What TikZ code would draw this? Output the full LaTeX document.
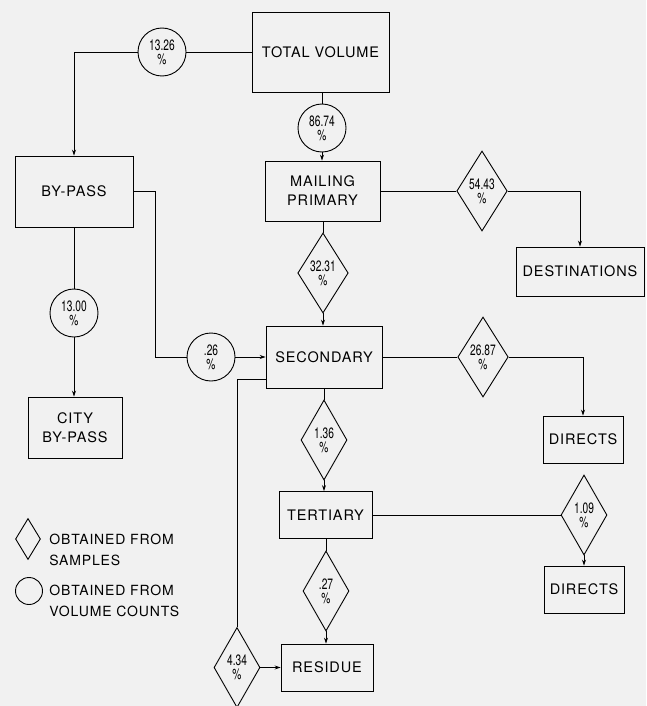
\documentclass[tikz,border=0pt]{standalone}
\usepackage{fontspec}
\setmainfont{TeX Gyre Heros}[LetterSpace=6]
\newfontfamily\numfont{TeX Gyre Heros}[FakeStretch=0.68]
\usetikzlibrary{shapes.geometric,arrows.meta}
\definecolor{paper}{RGB}{241,241,241}

\begin{document}
\begin{tikzpicture}[x=1pt, y=-1pt, line width=0.7pt, >={Stealth[length=6pt,width=4pt]},
    blk/.style={draw, line width=0.9pt, rectangle, inner sep=0pt, align=center, font=\fontsize{14.5}{19}\selectfont},
    cnt/.style={draw, line width=0.9pt, circle, minimum size=48pt, inner sep=0pt, align=center, font=\numfont\fontsize{15}{14}\selectfont},
    smp/.style={draw, line width=0.9pt, diamond, minimum width=46pt, minimum height=80pt, inner sep=0pt, align=center, font=\numfont\fontsize{15}{14}\selectfont},
    key/.style={anchor=west, inner sep=0pt, align=left, font=\fontsize{14}{21}\selectfont}]
    \fill[paper] (0,0) rectangle (646,706);
    \useasboundingbox (0,0) rectangle (646,706);

    \node (total) [blk, minimum width=137pt, minimum height=80pt] at (320.5,52) {TOTAL VOLUME};
    \node (c1326) [cnt] at (162,52) {13.26\\\%};
    \node (c8674) [cnt] at (322,128) {86.74\\\%};
    \node (bypass) [blk, minimum width=118pt, minimum height=71pt] at (74,191.5) {BY-PASS};
    \node (mailing) [blk, minimum width=115pt, minimum height=60pt] at (322.5,191) {MAILING\\PRIMARY};
    \node (d5443) [smp] at (482,191) {54.43\\\%};
    \node (dest) [blk, minimum width=128pt, minimum height=49pt] at (580,271.5) {DESTINATIONS};
    \node (d3231) [smp] at (323,273) {32.31\\\%};
    \node (c1300) [cnt] at (74,313) {13.00\\\%};
    \node (second) [blk, minimum width=116pt, minimum height=62pt] at (324,357) {SECONDARY};
    \node (c026) [cnt] at (211,357) {.26\\\%};
    \node (d2687) [smp] at (483,357) {26.87\\\%};
    \node (city) [blk, minimum width=94pt, minimum height=61pt] at (75,427.5) {CITY\\BY-PASS};
    \node (direct1) [blk, minimum width=80pt, minimum height=47pt] at (583,439.5) {DIRECTS};
    \node (d136) [smp] at (324,440) {1.36\\\%};
    \node (tert) [blk, minimum width=93pt, minimum height=47pt] at (325.5,515) {TERTIARY};
    \node (d109) [smp] at (584,515) {1.09\\\%};
    \node (direct2) [blk, minimum width=80pt, minimum height=47pt] at (584,589.5) {DIRECTS};
    \node (d027) [smp] at (326,591) {.27\\\%};
    \node (residue) [blk, minimum width=92pt, minimum height=47pt] at (327,667.5) {RESIDUE};
    \node (d434) [smp] at (237,667.5) {4.34\\\%};
    \coordinate (s4) at (266,379);

    % legend
    \node (lgd) [smp, minimum width=25pt, minimum height=41pt] at (28,539) {};
    \node (lgdtxt) [key] at (49,549.5) {OBTAINED FROM\\SAMPLES};
    \node (lgc) [cnt, minimum size=27pt] at (29,591) {};
    \node (lgctxt) [key] at (49,601) {OBTAINED FROM\\VOLUME COUNTS};

    \draw (total) -- (c1326);
    \draw[->] (c1326) -| (bypass);
    \draw (total.south -| c8674) -- (c8674);
    \draw[->] (c8674) -- (c8674 |- mailing.north);
    \draw (mailing) -- (d5443);
    \draw[->] (d5443) -| (dest);
    \draw (mailing.south -| d3231) -- (d3231);
    \draw[->] (d3231) -- (d3231 |- second.north);
    \draw (bypass.east) -- ++(22,0) |- (c026);
    \draw[->] (c026) -- (second);
    \draw (bypass) -- (c1300);
    \draw[->] (c1300) -- (c1300 |- city.north);
    \draw (second) -- (d2687);
    \draw[->] (d2687) -| (direct1);
    \draw (second) -- (d136);
    \draw[->] (d136) -- (d136 |- tert.north);
    \draw (s4) -| (d434);
    \draw[->] (d434) -- (residue);
    \draw (tert) -- (d109);
    \draw[->] (d109) -- (d109 |- direct2.north);
    \draw (tert.south -| d027) -- (d027);
    \draw[->] (d027) -- (d027 |- residue.north);
\end{tikzpicture}
\end{document}
